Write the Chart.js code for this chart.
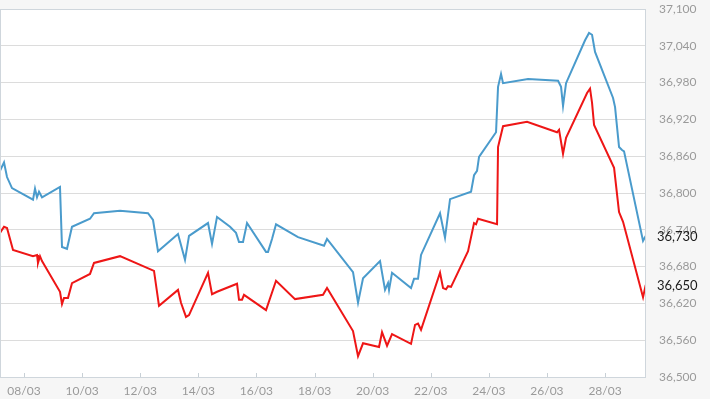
<!DOCTYPE html>
<html>
<head>
<meta charset="utf-8">
<script src="https://cdn.jsdelivr.net/npm/chart.js@4"></script>
<style>
  body { margin: 0; background: #f6f6f6; }
</style>
</head>
<body>
<canvas id="grafico" width="710" height="399"></canvas>
<script>
// dias de marco (fracao = hora do dia)
const diasAzul = [7.174, 7.312, 7.415, 7.587, 8.310, 8.379, 8.448, 8.517, 8.620, 9.239, 9.308, 9.480, 9.652,
    10.272, 10.410, 11.305, 12.269, 12.441, 12.613, 13.301, 13.542, 13.680, 14.334, 14.472, 14.644,
    15.092, 15.298, 15.401, 15.539, 15.677, 16.331, 16.399, 16.537, 16.675, 17.432, 18.327, 18.430,
    19.325, 19.498, 19.670, 20.255, 20.427, 20.530, 20.565, 20.668, 21.322, 21.425, 21.563, 21.666,
    22.320, 22.492, 22.665, 23.388, 23.491, 23.594, 23.663, 24.248, 24.317, 24.420, 24.489, 25.350,
    26.383, 26.486, 26.554, 26.658, 27.312, 27.449, 27.553, 27.656, 28.276, 28.345, 28.482, 28.585,
    28.654, 29.308, 29.400];
const valoresAzul = [36836, 36850, 36826, 36808, 36789, 36807, 36793, 36802, 36793, 36810, 36712, 36709, 36745,
    36758, 36767, 36771, 36767, 36756, 36705, 36733, 36691, 36730, 36751, 36717, 36761,
    36745, 36735, 36720, 36720, 36751, 36704, 36704, 36725, 36749, 36728, 36714, 36725,
    36671, 36621, 36661, 36689, 36642, 36653, 36642, 36670, 36645, 36660, 36660, 36699,
    36767, 36727, 36790, 36802, 36829, 36836, 36859, 36899, 36973, 36994, 36979, 36986,
    36983, 36973, 36942, 36979, 37049, 37061, 37058, 37030, 36955, 36940, 36875, 36870,
    36868, 36722, 36730];

const diasVermelho = [7.174, 7.312, 7.415, 7.622, 8.310, 8.448, 8.482, 8.551, 8.620, 9.239, 9.308, 9.377, 9.515,
    9.652, 10.272, 10.410, 11.305, 12.475, 12.647, 13.301, 13.404, 13.577, 13.680, 14.334, 14.472,
    14.644, 15.333, 15.401, 15.505, 15.573, 16.331, 16.675, 17.329, 18.293, 18.430, 19.325, 19.498,
    19.670, 20.221, 20.324, 20.496, 20.668, 21.322, 21.460, 21.563, 21.666, 22.320, 22.424, 22.527,
    22.596, 22.699, 23.285, 23.491, 23.560, 23.629, 24.283, 24.317, 24.489, 25.316, 26.348, 26.417,
    26.554, 26.658, 27.381, 27.484, 27.553, 27.622, 28.311, 28.482, 28.620, 29.308, 29.400];
const valoresVermelho = [36735, 36745, 36743, 36707, 36697, 36699, 36686, 36697, 36689, 36639, 36619, 36629, 36629,
    36653, 36668, 36686, 36697, 36673, 36616, 36642, 36621, 36598, 36601, 36670, 36635,
    36639, 36652, 36626, 36626, 36634, 36609, 36657, 36627, 36634, 36645, 36575, 36534,
    36555, 36549, 36573, 36551, 36570, 36554, 36585, 36587, 36577, 36670, 36645, 36643,
    36648, 36647, 36705, 36751, 36749, 36758, 36749, 36875, 36909, 36916, 36899, 36903,
    36864, 36890, 36963, 36970, 36947, 36911, 36841, 36769, 36753, 36630, 36650];

const diasEixo = [8, 10, 12, 14, 16, 18, 20, 22, 24, 26, 28];
const eixoMin = 36500, eixoMax = 37100, eixoPasso = 60;

function pontos(dias, valores) {
    return dias.map((d, i) => ({ x: d, y: valores[i] }));
}

function formatar(v) {
    return Number(v).toLocaleString('en-US');
}

const fundoPlugin = {
    id: 'fundo',
    beforeDraw(chart) {
        const c = chart.ctx, a = chart.chartArea;
        c.save();
        c.fillStyle = '#f6f6f6';
        c.fillRect(0, 0, chart.width, chart.height);
        c.fillStyle = '#ffffff';
        c.fillRect(a.left, a.top, a.right - a.left, a.bottom - a.top);
        c.restore();
    },
    afterDraw(chart) {
        const c = chart.ctx, a = chart.chartArea;
        const xs = chart.scales.x, ys = chart.scales.y;
        c.save();
        c.strokeStyle = '#cfd6dc';
        c.lineWidth = 1;
        c.strokeRect(a.left + 0.5, a.top + 0.5, a.right - a.left - 1, a.bottom - a.top);
        // marquinhas do eixo x
        c.strokeStyle = '#c8d0d6';
        diasEixo.forEach(d => {
            const px = Math.round(xs.getPixelForValue(d)) + 0.5;
            c.beginPath();
            c.moveTo(px, a.bottom);
            c.lineTo(px, a.bottom - 4);
            c.stroke();
        });
        // ultimo valor de cada serie
        c.font = '13px Lato';
        c.fillStyle = '#1a1a1a';
        c.textBaseline = 'middle';
        c.textAlign = 'left';
        chart.data.datasets.forEach(ds => {
            const ultimo = ds.data[ds.data.length - 1];
            c.fillText(formatar(ultimo.y), a.right + 11, ys.getPixelForValue(ultimo.y) + 1);
        });
        c.restore();
    }
};

const ctxGrafico = document.getElementById('grafico');

new Chart(ctxGrafico, {
    type: 'line',
    data: {
        datasets: [{
            label: 'Compra',
            data: pontos(diasAzul, valoresAzul),
            borderColor: 'rgb(74, 155, 204)',
            borderWidth: 2,
            pointRadius: 0,
            tension: 0,
            fill: false
        }, {
            label: 'Venda',
            data: pontos(diasVermelho, valoresVermelho),
            borderColor: 'rgb(238, 22, 22)',
            borderWidth: 2,
            pointRadius: 0,
            tension: 0,
            fill: false
        }]
    },
    options: {
        responsive: false,
        animation: false,
        layout: { padding: { top: 9, left: 0, right: 0, bottom: 0 } },
        plugins: {
            legend: { display: false },
            tooltip: { enabled: false }
        },
        scales: {
            x: {
                type: 'linear',
                min: 7.174,
                max: 29.41,
                afterBuildTicks: scale => {
                    scale.ticks = diasEixo.map(d => ({ value: d }));
                },
                afterFit: scale => {
                    scale.height = 22;
                    scale.paddingLeft = 0;
                    scale.paddingRight = 0;
                },
                grid: { display: false },
                border: { display: false },
                ticks: {
                    autoSkip: false,
                    maxRotation: 0,
                    padding: -1,
                    color: '#9a9a9a',
                    font: { family: 'Lato', size: 12 },
                    callback: v => String(v).padStart(2, '0') + '/03'
                }
            },
            y: {
                position: 'right',
                min: eixoMin,
                max: eixoMax,
                afterFit: scale => {
                    scale.width = 64;
                    scale.paddingTop = 0;
                    scale.paddingBottom = 0;
                },
                grid: { color: '#dcdcdc', drawTicks: false },
                border: { display: false },
                ticks: {
                    stepSize: eixoPasso,
                    padding: 13,
                    color: '#9a9a9a',
                    font: { family: 'Lato', size: 12 },
                    callback: v => formatar(v)
                }
            }
        }
    },
    plugins: [fundoPlugin]
});
</script>
</body>
</html>
